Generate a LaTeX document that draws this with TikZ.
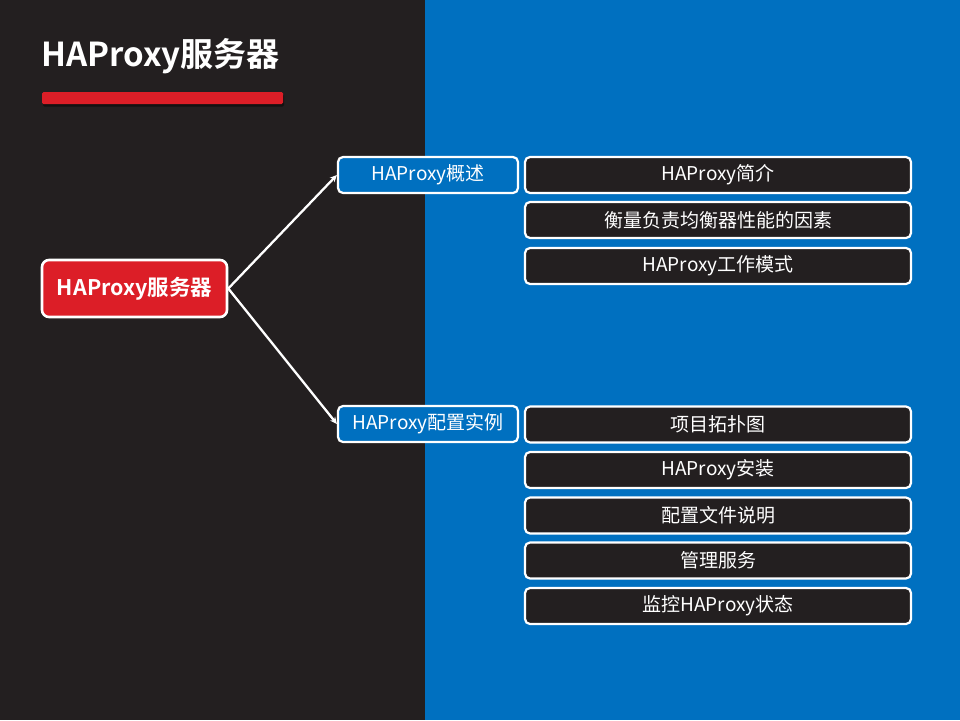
\documentclass[tikz,border=0pt]{standalone}
\usepackage{fontspec}
\setmainfont{Noto Sans CJK SC}[BoldFont=* Bold]
\usetikzlibrary{arrows.meta}
\definecolor{hadunkel}{HTML}{231F20}
\definecolor{hablau}{HTML}{0070C0}
\definecolor{harot}{HTML}{DC1E27}
\tikzset{
    wurzel/.style={draw=white, line width=2.6pt, fill=harot, rounded corners=7pt,
        minimum width=185pt, minimum height=57pt, text=white,
        font=\bfseries\fontsize{21.5}{26}\selectfont},
    kapitel/.style={draw=white, line width=2.2pt, fill=hablau, rounded corners=5pt,
        minimum width=180pt, minimum height=36pt, text=white,
        font=\fontsize{19}{23}\selectfont},
    punkt/.style={draw=white, line width=2.2pt, fill=hadunkel, rounded corners=5pt,
        minimum width=386pt, minimum height=36pt, text=white,
        font=\fontsize{19}{23}\selectfont},
    pfeil/.style={draw=white, line width=2.3pt, -{Stealth[length=7pt,width=6.5pt]}}
}
\begin{document}
\begin{tikzpicture}[x=1pt, y=-1pt]
    % Hintergrund
    \useasboundingbox (0,0) rectangle (960,720);
    \fill[hadunkel] (0,0) rectangle (425,720);
    \fill[hablau] (425,0) rectangle (960,720);

    % Titel
    \node[anchor=base west, inner sep=0pt, text=white,
        font=\bfseries\fontsize{33}{38}\selectfont] (titel) at (41,66) {HAProxy服务器};
    \fill[black, opacity=0.45, rounded corners=1.5pt] (43,94.5) rectangle (284,106.5);
    \fill[harot, rounded corners=1.5pt] (42,92) rectangle (283,104);

    % Wurzel
    \node[wurzel] (haproxy) at (134.5,288.5) {HAProxy服务器};

    % Kapitel
    \node[kapitel] (ueberblick) at (428,175) {HAProxy概述};
    \node[kapitel] (konfig) at (428,424) {HAProxy配置实例};

    % Punkte zu Kapitel 1
    \node[punkt] (einf) at (718,175) {HAProxy简介};
    \node[punkt] (faktoren) at (718,220) {衡量负责均衡器性能的因素};
    \node[punkt] (modus) at (718,266) {HAProxy工作模式};

    % Punkte zu Kapitel 2
    \node[punkt] (topo) at (718,424.5) {项目拓扑图};
    \node[punkt] (install) at (718,470) {HAProxy安装};
    \node[punkt] (datei) at (718,515.5) {配置文件说明};
    \node[punkt] (dienst) at (718,560.5) {管理服务};
    \node[punkt] (status) at (718,606) {监控HAProxy状态};

    % Pfeile
    \draw[pfeil] (haproxy.east) -- (ueberblick.west);
    \draw[pfeil] (haproxy.east) -- (konfig.west);
\end{tikzpicture}
\end{document}
